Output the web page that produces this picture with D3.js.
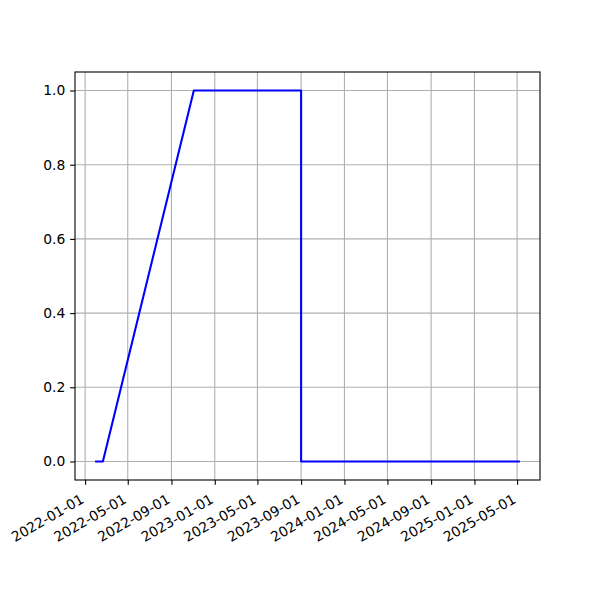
<!DOCTYPE html>
<html>
<head>
<meta charset="utf-8">
<script src="https://cdn.jsdelivr.net/npm/d3@7"></script>
<style>
body { margin: 0; background: #fff; }
svg { display: block; }
text { font-family: "DejaVu Sans", sans-serif; font-size: 13.89px; fill: #000; }
</style>
</head>
<body>
<svg id="chart" width="600" height="600"></svg>
<script>
const dates = ["2022-02-01", "2022-02-20", "2022-11-03", "2023-09-01", "2023-09-01", "2025-05-06"];
const values = [0, 0, 1, 1, 0, 0];
const xTickLabels = ["2022-01-01", "2022-05-01", "2022-09-01", "2023-01-01", "2023-05-01", "2023-09-01",
                     "2024-01-01", "2024-05-01", "2024-09-01", "2025-01-01", "2025-05-01"];
const yTickValues = [0.0, 0.2, 0.4, 0.6, 0.8, 1.0];

const parse = d3.utcParse("%Y-%m-%d");
const data = dates.map((d, i) => ({ x: parse(d), y: values[i] }));

const svg = d3.select("#chart");
const mLeft = 75, mRight = 540, mTop = 72, mBottom = 480;

const xExt = d3.extent(data, d => d.x);
const span = xExt[1] - xExt[0];
const x = d3.scaleUtc()
  .domain([new Date(+xExt[0] - 0.05 * span), new Date(+xExt[1] + 0.05 * span)])
  .range([mLeft, mRight]);
const y = d3.scaleLinear().domain([-0.05, 1.05]).range([mBottom, mTop]);

const xTicks = xTickLabels.map(parse);

// grid
const grid = svg.append("g");
grid.selectAll("line.gx").data(xTicks).join("line")
  .attr("x1", d => x(d)).attr("x2", d => x(d))
  .attr("y1", mTop).attr("y2", mBottom)
  .attr("stroke", "#b0b0b0").attr("stroke-width", 1.1);
grid.selectAll("line.gy").data(yTickValues).join("line")
  .attr("x1", mLeft).attr("x2", mRight)
  .attr("y1", d => y(d)).attr("y2", d => y(d))
  .attr("stroke", "#b0b0b0").attr("stroke-width", 1.1);

// line
const line = d3.line().x(d => x(d.x)).y(d => y(d.y));
svg.append("path").datum(data)
  .attr("d", line)
  .attr("fill", "none")
  .attr("stroke", "#0000ff")
  .attr("stroke-width", 2.08)
  .attr("stroke-linejoin", "round")
  .attr("stroke-linecap", "square");

// frame
svg.append("rect")
  .attr("x", mLeft).attr("y", mTop)
  .attr("width", mRight - mLeft).attr("height", mBottom - mTop)
  .attr("fill", "none").attr("stroke", "#000").attr("stroke-width", 1.1);

// x axis
const xAxis = d3.axisBottom(x).tickValues(xTicks).tickSize(4.86).tickPadding(4.86)
  .tickFormat(d3.utcFormat("%Y-%m-%d"));
const gx = svg.append("g").attr("transform", `translate(0,${mBottom})`).call(xAxis);
gx.select(".domain").remove();
gx.selectAll(".tick line").attr("stroke", "#000").attr("stroke-width", 1.1);
gx.selectAll(".tick text")
  .attr("y", null).attr("dy", null)
  .attr("text-anchor", "end")
  .attr("transform", "translate(-0.8, 22) rotate(-30)")
  .style("font-family", "DejaVu Sans").style("font-size", "13.89px");

// y axis
const yAxis = d3.axisLeft(y).tickValues(yTickValues).tickSize(4.86).tickPadding(4.86)
  .tickFormat(d3.format(".1f"));
const gy = svg.append("g").attr("transform", `translate(${mLeft},0)`).call(yAxis);
gy.select(".domain").remove();
gy.selectAll(".tick line").attr("stroke", "#000").attr("stroke-width", 1.1);
gy.selectAll(".tick text").style("font-family", "DejaVu Sans").style("font-size", "13.89px");
</script>
</body>
</html>
